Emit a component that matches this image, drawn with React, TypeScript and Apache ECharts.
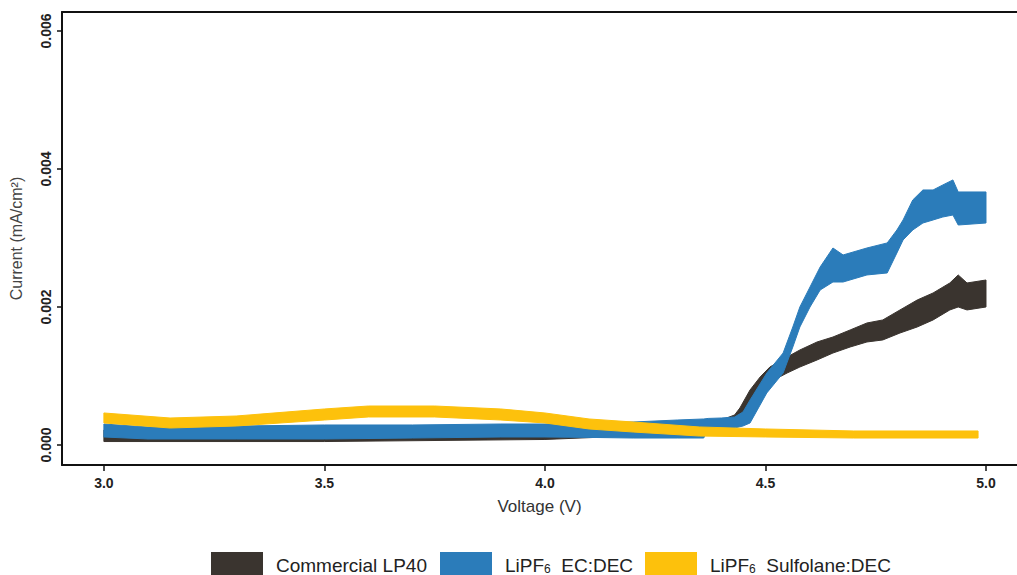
import React, { useEffect, useRef } from "react";
import * as echarts from "echarts";

// Commercial LP40 (dark) — envelope of the noisy trace
const lp40Voltage = [3.0, 3.5, 4.0, 4.3, 4.4, 4.43, 4.442, 4.465, 4.488, 4.51, 4.549, 4.578, 4.617, 4.653, 4.692, 4.73, 4.766, 4.805, 4.844, 4.88, 4.918, 4.937, 4.957, 5.0];
const lp40High = [0.000217, 0.000217, 0.000246, 0.000304, 0.000362, 0.000435, 0.000536, 0.000797, 0.000986, 0.00113, 0.001275, 0.001377, 0.001493, 0.001565, 0.001667, 0.001768, 0.001812, 0.001957, 0.002101, 0.002203, 0.002348, 0.002464, 0.002348, 0.002391];
const lp40Low = [0.00005, 0.00005, 0.00008, 0.000159, 0.000217, 0.000275, 0.000406, 0.000609, 0.000754, 0.000913, 0.001043, 0.00113, 0.001232, 0.001333, 0.00142, 0.001493, 0.001522, 0.001623, 0.00171, 0.001812, 0.001957, 0.002, 0.001957, 0.002];

// LiPF6 EC:DEC (blue)
const ecVoltage = [3.0, 3.1, 3.3, 3.5, 3.7, 3.9, 4.0, 4.1, 4.2, 4.3, 4.36, 4.37, 4.4, 4.43, 4.449, 4.465, 4.503, 4.54, 4.562, 4.578, 4.601, 4.624, 4.653, 4.676, 4.73, 4.776, 4.798, 4.812, 4.834, 4.857, 4.88, 4.902, 4.925, 4.937, 5.0];
const ecHigh = [0.000304, 0.000261, 0.000275, 0.00029, 0.00029, 0.000304, 0.000304, 0.000319, 0.000333, 0.000362, 0.000377, 0.000385, 0.000391, 0.000406, 0.000478, 0.000652, 0.001043, 0.001333, 0.00171, 0.002, 0.00229, 0.00258, 0.002855, 0.002754, 0.002855, 0.002928, 0.003116, 0.003261, 0.003551, 0.003696, 0.003696, 0.003768, 0.003841, 0.003667, 0.003667];
const ecLow = [0.000116, 0.000087, 0.000087, 0.000087, 0.000101, 0.000116, 0.000116, 0.00011, 0.000101, 0.000101, 0.000101, 0.000232, 0.000246, 0.000246, 0.000275, 0.000319, 0.000754, 0.001043, 0.00142, 0.00171, 0.002, 0.002246, 0.002362, 0.002362, 0.002464, 0.002493, 0.002783, 0.002971, 0.003116, 0.003217, 0.003261, 0.003304, 0.003333, 0.003188, 0.003217];

// LiPF6 Sulfolane:DEC (yellow)
const sulfVoltage = [3.0, 3.15, 3.3, 3.5, 3.6, 3.75, 3.9, 4.0, 4.1, 4.2, 4.35, 4.5, 4.7, 4.982];
const sulfHigh = [0.000464, 0.000391, 0.00042, 0.000522, 0.000565, 0.000565, 0.000522, 0.000464, 0.000377, 0.000333, 0.000261, 0.000232, 0.000203, 0.000203];
const sulfLow = [0.000319, 0.000246, 0.000275, 0.000362, 0.000406, 0.000406, 0.000362, 0.000319, 0.000232, 0.000188, 0.00013, 0.000116, 0.000101, 0.000101];

const xTicks = [3.0, 3.5, 4.0, 4.5, 5.0];
const yTicks = [0, 0.002, 0.004, 0.006];

const seriesNames = ["Commercial LP40", "LiPF6 EC:DEC", "LiPF6 Sulfolane:DEC"];
const colors = ["#3a342f", "#2b7cba", "#fdc10c"];

function band(name: string, color: string, v: number[], lo: number[], hi: number[]) {
  const data = v.map((x, i) => [x, lo[i], hi[i]]);
  return {
    type: "custom",
    name,
    data,
    encode: { x: 0, y: [1, 2] },
    itemStyle: { color },
    silent: true,
    clip: true,
    renderItem: (params: any, api: any) => {
      if (params.dataIndex !== 0) return null;
      const top = v.map((x, i) => api.coord([x, hi[i]]));
      const bottom = v.map((x, i) => api.coord([x, lo[i]])).reverse();
      return {
        type: "polygon",
        shape: { points: top.concat(bottom) },
        style: { fill: color, stroke: color, lineWidth: 1 },
      };
    },
  };
}

export default function App() {
  const ref = useRef<HTMLDivElement>(null);
  useEffect(() => {
    if (!ref.current) return;
    const chart = echarts.init(ref.current, null, { renderer: "svg" });
    const font = "'Liberation Sans', Arial, sans-serif";
    const legendLefts = [211, 440, 645];
    const legends = seriesNames.map((name, i) => ({
      left: legendLefts[i],
      top: 552,
      padding: 0,
      itemWidth: 52,
      itemHeight: 26,
      icon: "rect",
      data: [name],
      textStyle: {
        fontFamily: font,
        fontSize: 19,
        color: "#222",
        padding: [0, 0, 0, 8],
        rich: {
          a: { fontFamily: font, fontSize: 19, color: "#222", lineHeight: 20, verticalAlign: "middle" },
          s: { fontFamily: font, fontSize: 12, color: "#222", lineHeight: 8, verticalAlign: "bottom" },
        },
      },
      formatter: (n: string) => {
        if (n.startsWith("LiPF6")) {
          return "{a|LiPF}{s|6}{a|  " + n.slice(6) + "}";
        }
        return "{a|" + n + "}";
      },
    }));
    chart.setOption({
      animation: false,
      backgroundColor: "#ffffff",
      grid: { left: 62, top: 12, right: 0, bottom: 110, containLabel: false },
      legend: legends,
      xAxis: [
        {
          type: "value",
          min: 2.905,
          max: 5.0703,
          name: "Voltage (V)",
          nameLocation: "middle",
          nameGap: 33,
          nameTextStyle: { fontFamily: font, fontSize: 17, color: "#333" },
          axisLine: { show: true, onZero: false, lineStyle: { color: "#111", width: 2 } },
          axisTick: { show: true, length: 6, lineStyle: { color: "#111", width: 1.5 }, customValues: xTicks },
          axisLabel: {
            customValues: xTicks,
            formatter: (v: number) => v.toFixed(1),
            fontFamily: font,
            fontSize: 14,
            fontWeight: "bold",
            color: "#222",
            margin: 11,
          },
          splitLine: { show: false },
        },
        {
          type: "value",
          position: "top",
          min: 2.905,
          max: 5.0703,
          axisLine: { show: true, onZero: false, lineStyle: { color: "#111", width: 2 } },
          axisTick: { show: false },
          axisLabel: { show: false },
          splitLine: { show: false },
        },
      ],
      yAxis: {
        type: "value",
        min: -0.00029,
        max: 0.006275,
        name: "Current (mA/cm²)",
        nameLocation: "middle",
        nameGap: 38,
        nameTextStyle: { fontFamily: font, fontSize: 16, color: "#444" },
        axisLine: { show: true, onZero: false, lineStyle: { color: "#111", width: 2 } },
        axisTick: { show: true, length: 5, lineStyle: { color: "#111", width: 1.5 }, customValues: yTicks },
        axisLabel: {
          customValues: yTicks,
          rotate: 90,
          formatter: (v: number) => v.toFixed(3),
          fontFamily: font,
          fontSize: 14,
          fontWeight: "bold",
          color: "#222",
          margin: 9,
        },
        splitLine: { show: false },
      },
      series: [
        band(seriesNames[0], colors[0], lp40Voltage, lp40Low, lp40High),
        band(seriesNames[1], colors[1], ecVoltage, ecLow, ecHigh),
        band(seriesNames[2], colors[2], sulfVoltage, sulfLow, sulfHigh),
      ],
    });
    return () => chart.dispose();
  }, []);
  return (
    <div
      ref={ref}
      style={{ position: "absolute", left: 0, top: 0, width: 1017, height: 575 }}
    />
  );
}
